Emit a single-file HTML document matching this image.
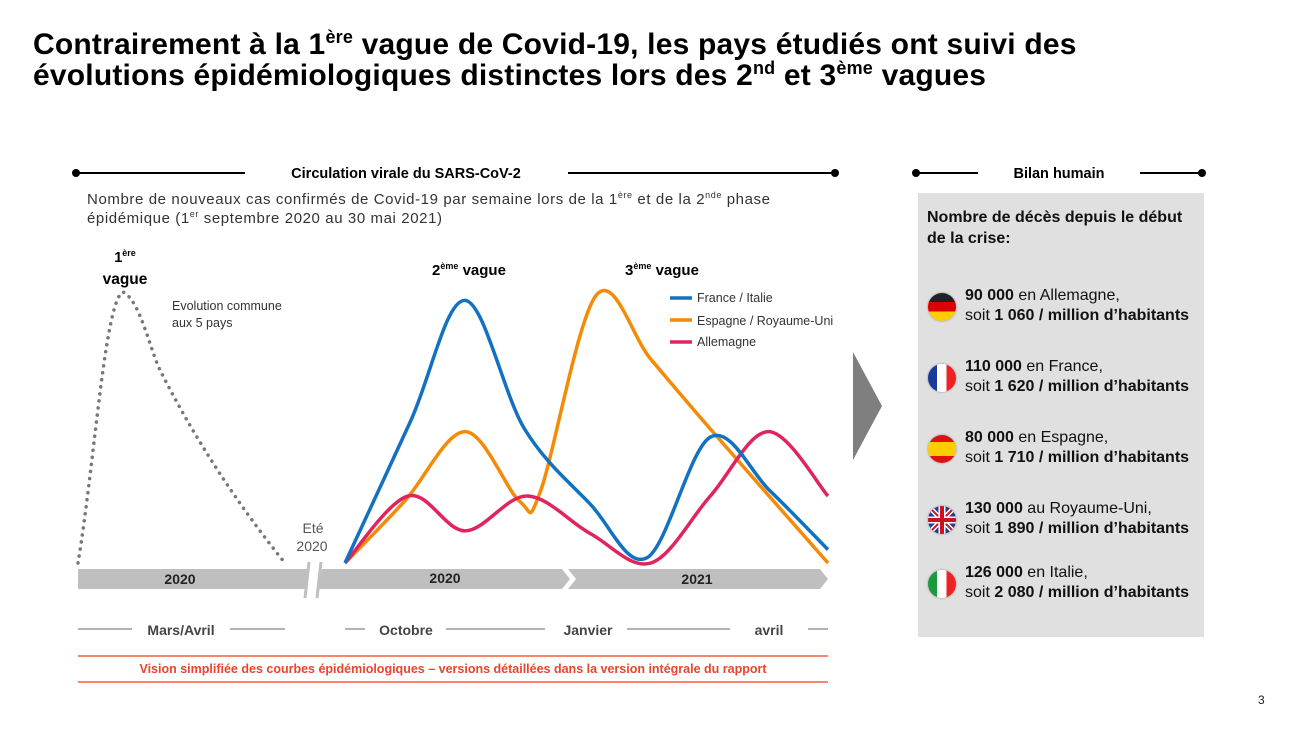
<!DOCTYPE html>
<html><head><meta charset="utf-8"><style>
body{margin:0;width:1299px;height:730px;background:#fff;font-family:"Liberation Sans",Arial,sans-serif;position:relative;overflow:hidden;color:#000}
.a{position:absolute}
sup{font-size:60%;line-height:0}
.title{left:33px;top:29px;font-size:30px;font-weight:bold;line-height:31px;letter-spacing:0.2px;white-space:nowrap}
.panel{left:918px;top:193px;width:286px;height:444px;background:#e0e0e0}
.ent{left:965px;font-size:16px;line-height:20px;color:#111;white-space:nowrap}
.flag{left:928px;width:28px;height:28px;border-radius:50%;overflow:hidden;box-shadow:0 0 2px #888}
</style></head><body>
<div class="a title">Contrairement à la 1<sup>ère</sup> vague de Covid-19, les pays étudiés ont suivi des<br>évolutions épidémiologiques distinctes lors des 2<sup>nd</sup> et 3<sup>ème</sup> vagues</div>

<svg class="a" style="left:0;top:0" width="1299" height="730">
 <g>
  <line x1="76" y1="173" x2="245" y2="173" stroke="#000" stroke-width="2"/><circle cx="76" cy="173" r="4"/>
  <line x1="568" y1="173" x2="835" y2="173" stroke="#000" stroke-width="2"/><circle cx="835" cy="173" r="4"/>
  <text x="406" y="178" text-anchor="middle" font-size="14.5" font-weight="bold">Circulation virale du SARS-CoV-2</text>
 </g>
 <g>
  <line x1="916" y1="173" x2="978" y2="173" stroke="#000" stroke-width="2"/><circle cx="916" cy="173" r="4"/>
  <line x1="1140" y1="173" x2="1202" y2="173" stroke="#000" stroke-width="2"/><circle cx="1202" cy="173" r="4"/>
  <text x="1059" y="178" text-anchor="middle" font-size="14.5" font-weight="bold">Bilan humain</text>
 </g>
 <text x="87" y="204" font-size="15" fill="#333" textLength="683" lengthAdjust="spacing">Nombre de nouveaux cas confirmés de Covid-19 par semaine lors de la 1<tspan font-size="9" dy="-6">ère</tspan><tspan dy="6"> et de la 2</tspan><tspan font-size="9" dy="-6">nde</tspan><tspan dy="6"> phase</tspan></text>
 <text x="87" y="223" font-size="15" fill="#333" textLength="355" lengthAdjust="spacing">épidémique (1<tspan font-size="9" dy="-6">er</tspan><tspan dy="6"> septembre 2020 au 30 mai 2021)</tspan></text>

 <path d="M78,563 C95,460 105,300 123,292 C140,300 150,350 160,370 C200,450 250,520 285,563" fill="none" stroke="#777" stroke-width="3.5" stroke-dasharray="0.1 7" stroke-linecap="round"/>
 <text x="125" y="262" text-anchor="middle" font-size="14.5" font-weight="bold">1<tspan font-size="9" dy="-6">ère</tspan></text>
 <text x="125" y="284" text-anchor="middle" font-size="15.5" font-weight="bold">vague</text>
 <text x="172" y="310" font-size="12.5" fill="#333">Evolution commune</text>
 <text x="172" y="327" font-size="12.5" fill="#333">aux 5 pays</text>
 <text x="313" y="533" text-anchor="middle" font-size="14" fill="#555">Eté</text>
 <text x="312" y="551" text-anchor="middle" font-size="14" fill="#555">2020</text>
 <text x="469" y="275" text-anchor="middle" font-size="15" font-weight="bold">2<tspan font-size="9" dy="-6">ème</tspan><tspan dy="6"> vague</tspan></text>
 <text x="662" y="275" text-anchor="middle" font-size="15" font-weight="bold">3<tspan font-size="9" dy="-6">ème</tspan><tspan dy="6"> vague</tspan></text>

 <g id="series"></g>

 <g font-size="12.5" fill="#333">
  <line x1="670" y1="298" x2="692" y2="298" stroke="#1271c0" stroke-width="3.5"/><text x="697" y="302">France / Italie</text>
  <line x1="670" y1="320" x2="692" y2="320" stroke="#f58a07" stroke-width="3.5"/><text x="697" y="325">Espagne / Royaume-Uni</text>
  <line x1="670" y1="342" x2="692" y2="342" stroke="#e0245e" stroke-width="3.5"/><text x="697" y="346">Allemagne</text>
 </g>

 <g>
  <rect x="78" y="569" width="229" height="20" fill="#bfbfbf"/>
  <polygon points="322,569 562,569 570,579 562,589 318,589" fill="#bfbfbf"/>
  <polygon points="568,569 820,569 828,579 820,589 568,589 576,579" fill="#bfbfbf"/>
  <line x1="309" y1="562" x2="305" y2="598" stroke="#bfbfbf" stroke-width="3"/>
  <line x1="321" y1="562" x2="317" y2="598" stroke="#bfbfbf" stroke-width="3"/>
  <text x="180" y="584" text-anchor="middle" font-size="14" font-weight="bold" fill="#222">2020</text>
  <text x="445" y="583" text-anchor="middle" font-size="14" font-weight="bold" fill="#222">2020</text>
  <text x="697" y="584" text-anchor="middle" font-size="14" font-weight="bold" fill="#222">2021</text>
 </g>
 <g font-size="14" font-weight="bold" fill="#444" text-anchor="middle">
  <line x1="78" y1="629" x2="132" y2="629" stroke="#666"/><line x1="230" y1="629" x2="285" y2="629" stroke="#666"/>
  <text x="181" y="635">Mars/Avril</text>
  <line x1="345" y1="629" x2="365" y2="629" stroke="#666"/><text x="406" y="635">Octobre</text>
  <line x1="446" y1="629" x2="545" y2="629" stroke="#666"/><text x="588" y="635">Janvier</text>
  <line x1="627" y1="629" x2="730" y2="629" stroke="#666"/><text x="769" y="635">avril</text>
  <line x1="808" y1="629" x2="828" y2="629" stroke="#666"/>
 </g>
 <g>
  <line x1="78" y1="656" x2="828" y2="656" stroke="#f0603c" stroke-width="1.5"/>
  <line x1="78" y1="682" x2="828" y2="682" stroke="#f0603c" stroke-width="1.5"/>
  <text x="453" y="673" text-anchor="middle" font-size="12.5" font-weight="bold" fill="#e8452c">Vision simplifiée des courbes épidémiologiques – versions détaillées dans la version intégrale du rapport</text>
 </g>
 <polygon points="853,352 882,406 853,460" fill="#7f7f7f"/>
 <text x="1258" y="704" font-size="12" fill="#222">3</text>
</svg>

<div class="a panel"></div>
<div class="a" style="left:927px;top:207px;font-size:16px;font-weight:bold;line-height:21px;color:#111;white-space:nowrap">Nombre de décès depuis le début<br>de la crise:</div>

<div class="a flag" style="top:293px;background:linear-gradient(#222 33%,#d00 33%,#d00 66%,#fc0 66%)"></div>
<div class="a ent" style="top:286px"><b>90 000</b> en Allemagne,<br>soit <b>1 060 / million d’habitants</b></div>
<div class="a flag" style="top:364px;background:linear-gradient(90deg,#1a3a9c 33%,#fff 33%,#fff 66%,#e22 66%)"></div>
<div class="a ent" style="top:357px"><b>110 000</b> en France,<br>soit <b>1 620 / million d’habitants</b></div>
<div class="a flag" style="top:435px;background:linear-gradient(#d11 25%,#fc0 25%,#fc0 75%,#d11 75%)"></div>
<div class="a ent" style="top:428px"><b>80 000</b> en Espagne,<br>soit <b>1 710 / million d’habitants</b></div>
<div class="a flag" style="top:506px;background:#223d8c"><svg width="28" height="28"><path d="M0,0L28,28M28,0L0,28" stroke="#fff" stroke-width="5"/><path d="M0,0L28,28M28,0L0,28" stroke="#c12" stroke-width="2"/><path d="M14,0V28M0,14H28" stroke="#fff" stroke-width="7"/><path d="M14,0V28M0,14H28" stroke="#c12" stroke-width="4"/></svg></div>
<div class="a ent" style="top:499px"><b>130 000</b> au Royaume-Uni,<br>soit <b>1 890 / million d’habitants</b></div>
<div class="a flag" style="top:570px;background:linear-gradient(90deg,#1a9a3a 33%,#fff 33%,#fff 66%,#e22 66%)"></div>
<div class="a ent" style="top:563px"><b>126 000</b> en Italie,<br>soit <b>2 080 / million d’habitants</b></div>

<script>
// weeks since 1 Sept 2020, relative weekly cases (0-100)
const blueWeeks = [0, 5.3, 9.7, 14.5, 19.8, 24.4, 29.5, 34.3, 39];
const blueValues = [0, 53, 98, 50, 22, 2, 47, 27, 5];
const orangeWeeks = [0, 4.8, 9.7, 14.1, 15.8, 20.3, 24.7, 29.5, 39];
const orangeValues = [0, 23, 49, 23, 27, 100, 76, 50, 0];
const pinkWeeks = [0, 5.1, 9.7, 14.7, 19.8, 24.7, 29.5, 34.2, 39];
const pinkValues = [0, 25, 12, 25, 11, 0, 25, 49, 25];

const xScale = w => 345 + w * (483 / 39);
const yScale = v => 563 - v * 2.68;
function pathFor(ws, vs) {
  const p = ws.map((w, i) => [xScale(w), yScale(vs[i])]);
  let d = 'M' + p[0][0] + ',' + p[0][1];
  for (let i = 0; i < p.length - 1; i++) {
    const p0 = p[i - 1] || p[i], p1 = p[i], p2 = p[i + 1], p3 = p[i + 2] || p2;
    const c1 = [p1[0] + (p2[0] - p0[0]) / 6, p1[1] + (p2[1] - p0[1]) / 6];
    const c2 = [p2[0] - (p3[0] - p1[0]) / 6, p2[1] - (p3[1] - p1[1]) / 6];
    d += ' C' + c1 + ' ' + c2 + ' ' + p2;
  }
  return d;
}
const g = document.getElementById('series');
[[orangeWeeks, orangeValues, '#f58a07', 'line-espagne-royaume-uni'],
 [pinkWeeks, pinkValues, '#e0245e', 'line-allemagne'],
 [blueWeeks, blueValues, '#1271c0', 'line-france-italie']].forEach(s => {
  const el = document.createElementNS('http://www.w3.org/2000/svg', 'path');
  el.setAttribute('d', pathFor(s[0], s[1]));
  el.setAttribute('fill', 'none');
  el.setAttribute('stroke', s[2]);
  el.setAttribute('stroke-width', '3.5');
  
  
  g.appendChild(el);
});
</script>
</body></html>
